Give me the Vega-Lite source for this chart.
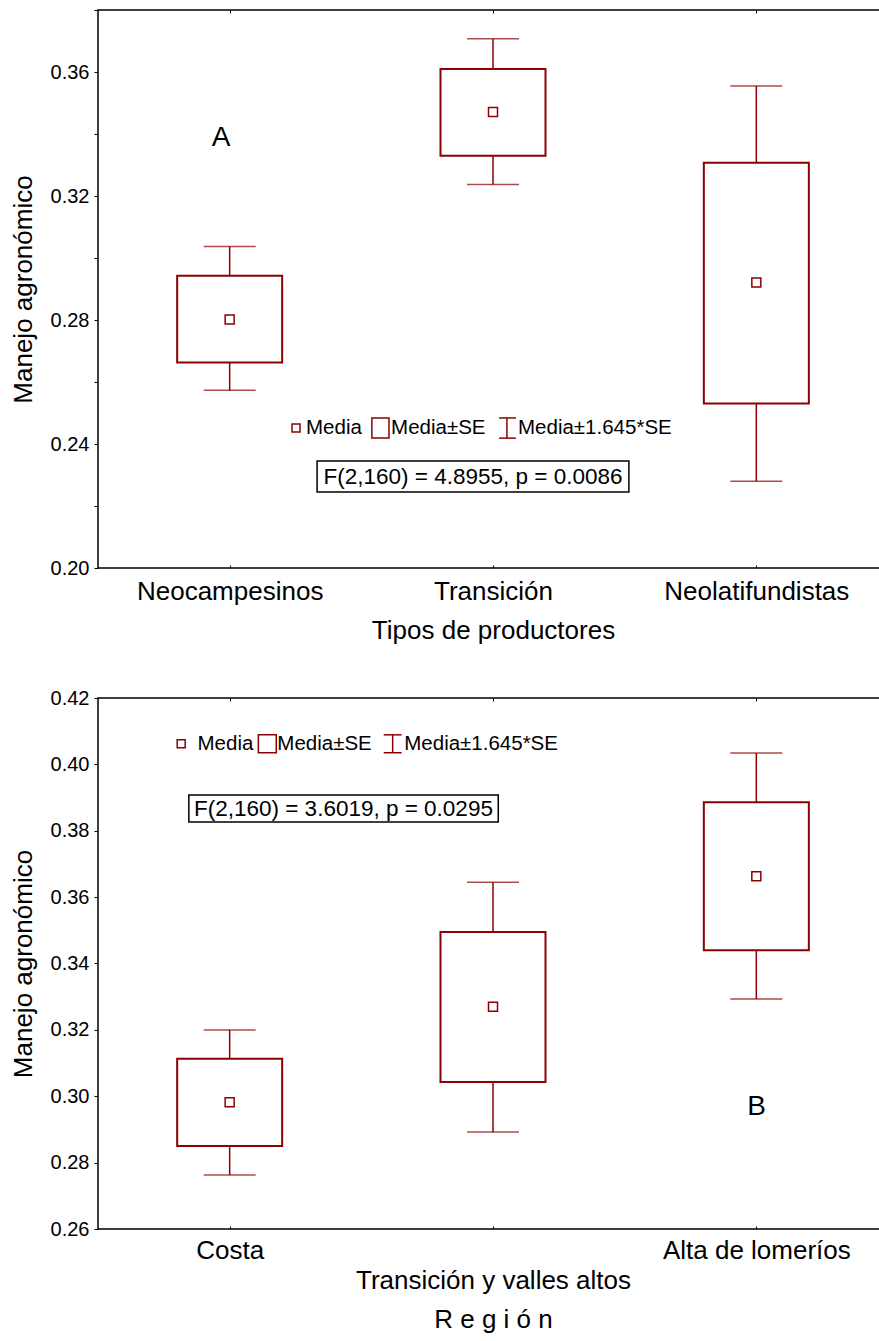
{
 "$schema": "https://vega.github.io/schema/vega-lite/v6.json",
 "padding": {"left": 9, "top": 8, "right": 0, "bottom": 0},
 "background": "white",
 "config": {
  "font": "Liberation Sans",
  "view": {"stroke": "#000", "strokeWidth": 1.5},
  "axis": {"domain": false, "grid": false, "tickColor": "#000", "labelColor": "#000", "titleColor": "#000", "labelFont": "Liberation Sans", "titleFont": "Liberation Sans", "titleFontWeight": "normal", "labelLimit": 0}
 },
 "bounds": "flush",
 "spacing": 130,
 "vconcat": [
  {
   "width": 790, "height": 558,
   "layer": [
    {
     "data": {"values": [
      {"g": "Neocampesinos", "mean": 0.2802, "se_lo": 0.2663, "se_hi": 0.2943, "ci_lo": 0.2573, "ci_hi": 0.3037},
      {"g": "Transición", "mean": 0.3471, "se_lo": 0.3330, "se_hi": 0.3610, "ci_lo": 0.3237, "ci_hi": 0.3707},
      {"g": "Neolatifundistas", "mean": 0.2921, "se_lo": 0.2531, "se_hi": 0.3307, "ci_lo": 0.2280, "ci_hi": 0.3555}
     ]},
     "encoding": {
      "x": {"field": "g", "type": "nominal", "sort": null, "scale": {"type": "point", "padding": 0.5},
            "axis": {"orient": "bottom", "title": "Tipos de productores", "labelFontSize": 26, "titleFontSize": 26, "tickSize": -3, "labelPadding": 13, "titlePadding": 13, "labelAngle": 0}}
     },
     "layer": [
      {"mark": {"type": "rule", "color": "#8b0000", "strokeWidth": 1.5},
       "encoding": {
        "y": {"field": "ci_lo", "type": "quantitative", "title": "Manejo agronómico",
              "scale": {"domain": [0.2, 0.38], "nice": false, "zero": false},
              "axis": {"values": [0.2, 0.22, 0.24, 0.26, 0.28, 0.3, 0.32, 0.34, 0.36, 0.38], "labelExpr": "round(datum.value*100) % 4 == 0 ? format(datum.value, '.2f') : ''", "labelFontSize": 20, "tickSize": 4, "labelPadding": 5, "titleFontSize": 26, "titlePadding": 14}},
        "y2": {"field": "ci_hi"}}},
      {"mark": {"type": "tick", "color": "#8b0000", "size": 52, "thickness": 1.5},
       "encoding": {"y": {"field": "ci_lo", "type": "quantitative", "title": "Manejo agronómico"}}},
      {"mark": {"type": "tick", "color": "#8b0000", "size": 52, "thickness": 1.5},
       "encoding": {"y": {"field": "ci_hi", "type": "quantitative", "title": "Manejo agronómico"}}},
      {"mark": {"type": "bar", "size": 105, "fill": "white", "stroke": "#8b0000", "strokeWidth": 2},
       "encoding": {"y": {"field": "se_lo", "type": "quantitative", "title": "Manejo agronómico"}, "y2": {"field": "se_hi"}}},
      {"mark": {"type": "point", "shape": "square", "size": 81, "filled": false, "color": "#8b0000", "strokeWidth": 1.5, "opacity": 1},
       "encoding": {"y": {"field": "mean", "type": "quantitative", "title": "Manejo agronómico"}}}
     ]
    },
    {
     "layer": [
      {"data": {"values": [{"ax": 0.79, "ay": 0.2452, "label": "Media"}, {"ax": 1.113, "ay": 0.2452, "label": "Media±SE"}, {"ax": 1.595, "ay": 0.2452, "label": "Media±1.645*SE"}]},
       "mark": {"type": "text", "align": "left", "baseline": "middle", "fontSize": 20.5, "color": "#000"},
       "encoding": {
        "x": {"field": "ax", "type": "quantitative", "title": null, "scale": {"domain": [0, 3], "nice": false, "zero": false},
              "axis": {"orient": "top", "values": [0.5, 1.5, 2.5], "labels": false, "title": null, "tickSize": -3}},
        "y": {"field": "ay", "type": "quantitative", "title": "Manejo agronómico"},
        "text": {"field": "label"}}},
      {"data": {"values": [{"ax": 0.752, "ay": 0.2452}]},
       "mark": {"type": "point", "shape": "square", "size": 64, "filled": false, "color": "#8b0000", "strokeWidth": 1.5, "opacity": 1},
       "encoding": {"x": {"field": "ax", "type": "quantitative", "title": null}, "y": {"field": "ay", "type": "quantitative", "title": "Manejo agronómico"}}},
      {"data": {"values": [{"ax": 1.04, "ax2": 1.105, "ay": 0.2419, "ay2": 0.2484}]},
       "mark": {"type": "rect", "fill": null, "fillOpacity": 0, "stroke": "#8b0000", "strokeWidth": 1.5},
       "encoding": {"x": {"field": "ax", "type": "quantitative", "title": null}, "x2": {"field": "ax2"}, "y": {"field": "ay", "type": "quantitative", "title": "Manejo agronómico"}, "y2": {"field": "ay2"}}},
      {"data": {"values": [{"ax": 1.553, "ay": 0.2419, "ay2": 0.2484}]},
       "mark": {"type": "rule", "color": "#8b0000", "strokeWidth": 1.5},
       "encoding": {"x": {"field": "ax", "type": "quantitative", "title": null}, "y": {"field": "ay", "type": "quantitative", "title": "Manejo agronómico"}, "y2": {"field": "ay2"}}},
      {"data": {"values": [{"ax": 1.523, "ax2": 1.587, "ay": 0.2419}, {"ax": 1.523, "ax2": 1.587, "ay": 0.2484}]},
       "mark": {"type": "rule", "color": "#8b0000", "strokeWidth": 1.5},
       "encoding": {"x": {"field": "ax", "type": "quantitative", "title": null}, "x2": {"field": "ax2"}, "y": {"field": "ay", "type": "quantitative", "title": "Manejo agronómico"}}},
      {"data": {"values": [{"ax": 0.832, "ax2": 2.016, "ay": 0.2245, "ay2": 0.2345}]},
       "mark": {"type": "rect", "fill": null, "fillOpacity": 0, "stroke": "#000", "strokeWidth": 1.5},
       "encoding": {"x": {"field": "ax", "type": "quantitative", "title": null}, "x2": {"field": "ax2"}, "y": {"field": "ay", "type": "quantitative", "title": "Manejo agronómico"}, "y2": {"field": "ay2"}}},
      {"data": {"values": [{"ax": 1.424, "ay": 0.2295, "label": "F(2,160) = 4.8955, p = 0.0086"}]},
       "mark": {"type": "text", "align": "center", "baseline": "middle", "fontSize": 22.5, "color": "#000"},
       "encoding": {"x": {"field": "ax", "type": "quantitative", "title": null}, "y": {"field": "ay", "type": "quantitative", "title": "Manejo agronómico"}, "text": {"field": "label"}}},
      {"data": {"values": [{"ax": 0.467, "ay": 0.3387, "label": "A"}]},
       "mark": {"type": "text", "align": "center", "baseline": "middle", "fontSize": 28, "color": "#000"},
       "encoding": {"x": {"field": "ax", "type": "quantitative", "title": null}, "y": {"field": "ay", "type": "quantitative", "title": "Manejo agronómico"}, "text": {"field": "label"}}}
     ]
    }
   ],
   "resolve": {"scale": {"x": "independent"}, "axis": {"x": "independent"}}
  },
  {
   "width": 790, "height": 531,
   "layer": [
    {
     "data": {"values": [
      {"g": "Costa", "mean": 0.2982, "se_lo": 0.2850, "se_hi": 0.3113, "ci_lo": 0.2763, "ci_hi": 0.3200},
      {"g": "Transición y valles altos", "mean": 0.3270, "se_lo": 0.3043, "se_hi": 0.3495, "ci_lo": 0.2892, "ci_hi": 0.3645},
      {"g": "Alta de lomeríos", "mean": 0.3663, "se_lo": 0.3440, "se_hi": 0.3886, "ci_lo": 0.3293, "ci_hi": 0.4034}
     ]},
     "encoding": {
      "x": {"field": "g", "type": "nominal", "sort": null, "scale": {"type": "point", "padding": 0.5},
            "axis": {"orient": "bottom", "title": "R e g i ó n", "labelFontSize": 26, "titleFontSize": 26, "tickSize": -3, "labelPadding": 11, "titlePadding": 13, "labelAngle": 0, "labelLineHeight": 30,
                     "labelExpr": "datum.value == 'Transición y valles altos' ? ['', datum.value] : datum.value"}}
     },
     "layer": [
      {"mark": {"type": "rule", "color": "#8b0000", "strokeWidth": 1.5},
       "encoding": {
        "y": {"field": "ci_lo", "type": "quantitative", "title": "Manejo agronómico",
              "scale": {"domain": [0.26, 0.42], "nice": false, "zero": false},
              "axis": {"values": [0.26, 0.28, 0.3, 0.32, 0.34, 0.36, 0.38, 0.4, 0.42], "format": ".2f", "labelFontSize": 20, "tickSize": 4, "labelPadding": 5, "titleFontSize": 26, "titlePadding": 14}},
        "y2": {"field": "ci_hi"}}},
      {"mark": {"type": "tick", "color": "#8b0000", "size": 52, "thickness": 1.5},
       "encoding": {"y": {"field": "ci_lo", "type": "quantitative", "title": "Manejo agronómico"}}},
      {"mark": {"type": "tick", "color": "#8b0000", "size": 52, "thickness": 1.5},
       "encoding": {"y": {"field": "ci_hi", "type": "quantitative", "title": "Manejo agronómico"}}},
      {"mark": {"type": "bar", "size": 105, "fill": "white", "stroke": "#8b0000", "strokeWidth": 2},
       "encoding": {"y": {"field": "se_lo", "type": "quantitative", "title": "Manejo agronómico"}, "y2": {"field": "se_hi"}}},
      {"mark": {"type": "point", "shape": "square", "size": 81, "filled": false, "color": "#8b0000", "strokeWidth": 1.5, "opacity": 1},
       "encoding": {"y": {"field": "mean", "type": "quantitative", "title": "Manejo agronómico"}}}
     ]
    },
    {
     "layer": [
      {"data": {"values": [{"ax": 0.378, "ay": 0.4062, "label": "Media"}, {"ax": 0.681, "ay": 0.4062, "label": "Media±SE"}, {"ax": 1.163, "ay": 0.4062, "label": "Media±1.645*SE"}]},
       "mark": {"type": "text", "align": "left", "baseline": "middle", "fontSize": 20.5, "color": "#000"},
       "encoding": {
        "x": {"field": "ax", "type": "quantitative", "title": null, "scale": {"domain": [0, 3], "nice": false, "zero": false},
              "axis": {"orient": "top", "values": [0.5, 1.5, 2.5], "labels": false, "title": null, "tickSize": -3}},
        "y": {"field": "ay", "type": "quantitative", "title": "Manejo agronómico"},
        "text": {"field": "label"}}},
      {"data": {"values": [{"ax": 0.316, "ay": 0.4062}]},
       "mark": {"type": "point", "shape": "square", "size": 64, "filled": false, "color": "#8b0000", "strokeWidth": 1.5, "opacity": 1},
       "encoding": {"x": {"field": "ax", "type": "quantitative", "title": null}, "y": {"field": "ay", "type": "quantitative", "title": "Manejo agronómico"}}},
      {"data": {"values": [{"ax": 0.609, "ax2": 0.677, "ay": 0.4035, "ay2": 0.4089}]},
       "mark": {"type": "rect", "fill": null, "fillOpacity": 0, "stroke": "#8b0000", "strokeWidth": 1.5},
       "encoding": {"x": {"field": "ax", "type": "quantitative", "title": null}, "x2": {"field": "ax2"}, "y": {"field": "ay", "type": "quantitative", "title": "Manejo agronómico"}, "y2": {"field": "ay2"}}},
      {"data": {"values": [{"ax": 1.119, "ay": 0.4035, "ay2": 0.4089}]},
       "mark": {"type": "rule", "color": "#8b0000", "strokeWidth": 1.5},
       "encoding": {"x": {"field": "ax", "type": "quantitative", "title": null}, "y": {"field": "ay", "type": "quantitative", "title": "Manejo agronómico"}, "y2": {"field": "ay2"}}},
      {"data": {"values": [{"ax": 1.085, "ax2": 1.153, "ay": 0.4035}, {"ax": 1.085, "ax2": 1.153, "ay": 0.4089}]},
       "mark": {"type": "rule", "color": "#8b0000", "strokeWidth": 1.5},
       "encoding": {"x": {"field": "ax", "type": "quantitative", "title": null}, "x2": {"field": "ax2"}, "y": {"field": "ay", "type": "quantitative", "title": "Manejo agronómico"}}},
      {"data": {"values": [{"ax": 0.345, "ax2": 1.52, "ay": 0.3826, "ay2": 0.3908}]},
       "mark": {"type": "rect", "fill": null, "fillOpacity": 0, "stroke": "#000", "strokeWidth": 1.5},
       "encoding": {"x": {"field": "ax", "type": "quantitative", "title": null}, "x2": {"field": "ax2"}, "y": {"field": "ay", "type": "quantitative", "title": "Manejo agronómico"}, "y2": {"field": "ay2"}}},
      {"data": {"values": [{"ax": 0.932, "ay": 0.3867, "label": "F(2,160) = 3.6019, p = 0.0295"}]},
       "mark": {"type": "text", "align": "center", "baseline": "middle", "fontSize": 22.5, "color": "#000"},
       "encoding": {"x": {"field": "ax", "type": "quantitative", "title": null}, "y": {"field": "ay", "type": "quantitative", "title": "Manejo agronómico"}, "text": {"field": "label"}}},
      {"data": {"values": [{"ax": 2.501, "ay": 0.2967, "label": "B"}]},
       "mark": {"type": "text", "align": "center", "baseline": "middle", "fontSize": 28, "color": "#000"},
       "encoding": {"x": {"field": "ax", "type": "quantitative", "title": null}, "y": {"field": "ay", "type": "quantitative", "title": "Manejo agronómico"}, "text": {"field": "label"}}}
     ]
    }
   ],
   "resolve": {"scale": {"x": "independent"}, "axis": {"x": "independent"}}
  }
 ]
}
